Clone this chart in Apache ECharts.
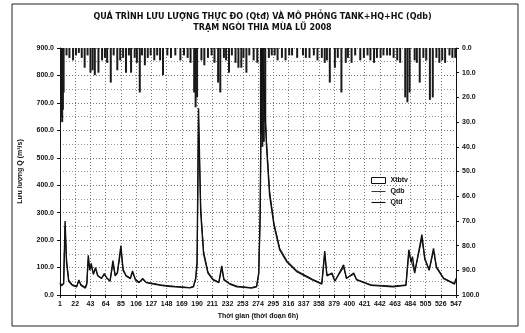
<!DOCTYPE html>
<html>
<head>
<meta charset="utf-8">
<script src="https://cdn.jsdelivr.net/npm/echarts@6/dist/echarts.min.js"></script>
<style>
  html, body { margin: 0; padding: 0; background: #fff; }
  #myChart { width: 525px; height: 333px; }
</style>
</head>
<body>
<div id="myChart"></div>
<script>
// thời đoạn 6h, 1..547
var xTicks = [1, 22, 43, 64, 85, 106, 127, 148, 169, 190, 211, 232, 253, 274, 295, 316, 337,
    358, 379, 400, 421, 442, 463, 484, 505, 526, 547];

// mưa trung bình lưu vực (mm): [thời đoạn, giá trị]
var rainData = [
    [3, 28], [4, 30], [5, 25], [6, 18], [10, 3], [14, 4], [19, 5], [23, 3], [27, 2], [31, 4],
    [35, 8], [39, 3], [43, 10], [46, 9], [49, 11], [54, 10], [59, 5], [63, 4], [66, 6], [71, 14],
    [75, 3], [80, 9], [84, 5], [88, 4], [92, 10], [96, 3], [99, 10], [104, 4], [107, 6], [111, 18],
    [114, 3], [118, 7], [122, 4], [126, 3], [131, 5], [135, 3], [139, 5], [143, 11], [149, 3],
    [154, 4], [160, 3], [167, 5], [172, 3], [177, 4], [181, 6], [186, 18], [188, 24], [190, 20],
    [196, 5], [200, 7], [205, 4], [210, 3], [214, 6], [219, 14], [222, 18], [227, 4], [230, 5],
    [234, 10], [238, 3], [243, 6], [247, 8], [251, 8], [254, 4], [258, 10], [262, 3], [268, 5],
    [273, 6], [278, 35], [280, 40], [282, 38], [284, 30], [289, 4], [293, 3], [297, 3], [301, 5],
    [307, 4], [312, 5], [317, 3], [321, 3], [328, 4], [336, 3], [340, 4], [345, 4], [351, 3],
    [356, 5], [362, 4], [366, 6], [369, 5], [373, 14], [380, 8], [384, 4], [389, 18], [395, 6],
    [398, 4], [403, 6], [408, 3], [415, 5], [420, 4], [425, 3], [429, 5], [434, 6], [438, 4],
    [443, 4], [447, 3], [452, 3], [456, 3], [461, 4], [466, 5], [470, 6], [477, 20], [480, 22],
    [483, 18], [490, 5], [493, 6], [497, 14], [502, 4], [506, 5], [511, 21], [515, 20], [520, 4],
    [524, 6], [528, 5], [532, 6], [538, 3], [542, 4], [546, 4]
];

// lưu lượng thực đo Qtđ (m3/s)
var qtdData = [
    [1, 45], [3, 35], [6, 40], [8, 270], [10, 120], [13, 50], [18, 35], [24, 30], [27, 55],
    [30, 35], [36, 25], [38, 40], [40, 145], [42, 90], [44, 115], [47, 75], [50, 100], [53, 70],
    [58, 60], [62, 78], [66, 60], [70, 50], [74, 125], [77, 70], [80, 80], [85, 180], [88, 90],
    [92, 70], [98, 60], [101, 88], [105, 55], [110, 45], [115, 60], [120, 45], [130, 40],
    [140, 35], [150, 32], [160, 30], [170, 28], [180, 26], [185, 30], [188, 60], [190, 120],
    [192, 680], [195, 300], [199, 150], [205, 80], [212, 55], [220, 45], [224, 106], [227, 55],
    [235, 40], [245, 30], [255, 28], [265, 25], [272, 30], [275, 80], [277, 300], [279, 900],
    [282, 750], [286, 530], [290, 364], [296, 255], [304, 164], [314, 120], [328, 84], [349, 55],
    [362, 40], [366, 160], [369, 70], [376, 80], [380, 50], [392, 110], [396, 60], [406, 80],
    [410, 55], [430, 35], [460, 30], [478, 35], [482, 165], [485, 120], [487, 140], [490, 80],
    [500, 220], [504, 130], [510, 90], [516, 170], [520, 100], [530, 60], [545, 40], [547, 60]
];

// lưu lượng mô phỏng Qdb (m3/s)
var qdbData = [
    [1, 40], [3, 32], [6, 45], [8, 250], [10, 130], [13, 55], [18, 38], [24, 32], [27, 50],
    [30, 38], [36, 28], [38, 45], [40, 130], [42, 95], [44, 105], [47, 80], [50, 95], [53, 72],
    [58, 62], [62, 72], [66, 62], [70, 52], [74, 115], [77, 75], [80, 78], [85, 165], [88, 95],
    [92, 72], [98, 62], [101, 80], [105, 58], [110, 48], [115, 56], [120, 46], [130, 42],
    [140, 37], [150, 34], [160, 31], [170, 29], [180, 27], [185, 32], [188, 55], [190, 110],
    [192, 640], [195, 320], [199, 160], [205, 85], [212, 58], [220, 47], [224, 98], [227, 58],
    [235, 42], [245, 32], [255, 29], [265, 27], [272, 32], [275, 75], [277, 280], [279, 880],
    [282, 780], [286, 550], [290, 380], [296, 262], [304, 170], [314, 125], [328, 88], [349, 58],
    [362, 42], [366, 150], [369, 75], [376, 75], [380, 52], [392, 100], [396, 62], [406, 75],
    [410, 57], [430, 37], [460, 32], [478, 37], [482, 155], [485, 125], [487, 130], [490, 85],
    [500, 205], [504, 135], [510, 92], [516, 160], [520, 105], [530, 62], [545, 42], [547, 55]
];

var labelFont = { fontFamily: 'Liberation Sans', fontSize: 7, fontWeight: 'bold', color: '#111' };

var myChart = echarts.init(document.getElementById('myChart'), null, { renderer: 'canvas' });
myChart.setOption({
    backgroundColor: '#fff',
    animation: false,
    title: {
        text: 'QUÁ TRÌNH LƯU LƯỢNG THỰC ĐO (Qtđ) VÀ MÔ PHỎNG TANK+HQ+HC (Qdb)\nTRẠM NGÒI THIA MÙA LŨ 2008',
        left: 'center',
        top: 6,
        textStyle: {
            fontFamily: 'DejaVu Sans', fontSize: 8, fontWeight: 'bold', color: '#111', lineHeight: 11
        }
    },
    graphic: [{
        type: 'rect',
        shape: { x: 12, y: 4, width: 506, height: 322 },
        style: { fill: 'none', stroke: '#222', lineWidth: 1 },
        silent: true
    }],
    legend: {
        orient: 'vertical',
        left: 366,
        top: 172,
        itemWidth: 14,
        itemHeight: 6,
        itemGap: 4,
        textStyle: { fontFamily: 'Liberation Sans', fontSize: 7, fontWeight: 'bold', color: '#111' },
        data: [
            { name: 'Xtbtv', icon: 'rect', itemStyle: { color: '#fff', borderColor: '#111', borderWidth: 1 } },
            { name: 'Qdb', icon: 'path://M0,0L20,0L20,1.2L0,1.2Z' },
            { name: 'Qtd', icon: 'path://M0,0L20,0L20,1.6L0,1.6Z' }
        ]
    },
    grid: { left: 60, right: 69, top: 48, bottom: 38 },
    xAxis: {
        type: 'value',
        min: 1,
        max: 547,
        interval: 21,
        name: 'Thời gian (thời đoạn 6h)',
        nameLocation: 'middle',
        nameGap: 18,
        nameTextStyle: { fontFamily: 'Liberation Sans', fontSize: 7, fontWeight: 'bold', color: '#111' },
        axisLine: { show: true, lineStyle: { color: '#111', width: 1 } },
        axisTick: { show: true, length: 3, lineStyle: { color: '#111' } },
        axisLabel: Object.assign({ margin: 6 }, labelFont),
        splitLine: { show: true, lineStyle: { color: '#777', type: [1, 2], width: 1 } }
    },
    yAxis: [{
        type: 'value',
        min: 0,
        max: 900,
        interval: 100,
        name: 'Lưu lượng Q (m³/s)',
        nameLocation: 'middle',
        nameGap: 36,
        nameRotate: 90,
        nameTextStyle: { fontFamily: 'Liberation Sans', fontSize: 7, fontWeight: 'bold', color: '#111' },
        axisLine: { show: true, lineStyle: { color: '#111', width: 1 } },
        axisTick: { show: true, length: 3, lineStyle: { color: '#111' } },
        axisLabel: Object.assign({ margin: 6, formatter: function (v) { return v.toFixed(1); } }, labelFont),
        minorTick: { show: true, splitNumber: 2, length: 0 },
        splitLine: { show: true, lineStyle: { color: '#777', type: [1, 2], width: 1 } },
        minorSplitLine: { show: true, lineStyle: { color: '#999', type: [1, 2], width: 1 } }
    }, {
        type: 'value',
        min: 0,
        max: 100,
        interval: 10,
        inverse: true,
        axisLine: { show: true, lineStyle: { color: '#111', width: 1 } },
        axisTick: { show: true, length: 3, lineStyle: { color: '#111' } },
        axisLabel: Object.assign({ margin: 6, formatter: function (v) { return v.toFixed(1); } }, labelFont),
        splitLine: { show: false }
    }],
    series: [{
        name: 'Xtbtv',
        type: 'bar',
        yAxisIndex: 1,
        barWidth: 2,
        itemStyle: { color: '#1a1a1a' },
        data: rainData
    }, {
        name: 'Qdb',
        type: 'line',
        symbol: 'none',
        lineStyle: { color: '#111', width: 1 },
        itemStyle: { color: '#111' },
        data: qdbData
    }, {
        name: 'Qtd',
        type: 'line',
        symbol: 'none',
        lineStyle: { color: '#111', width: 1.4 },
        itemStyle: { color: '#111' },
        data: qtdData
    }]
});
</script>
</body>
</html>
